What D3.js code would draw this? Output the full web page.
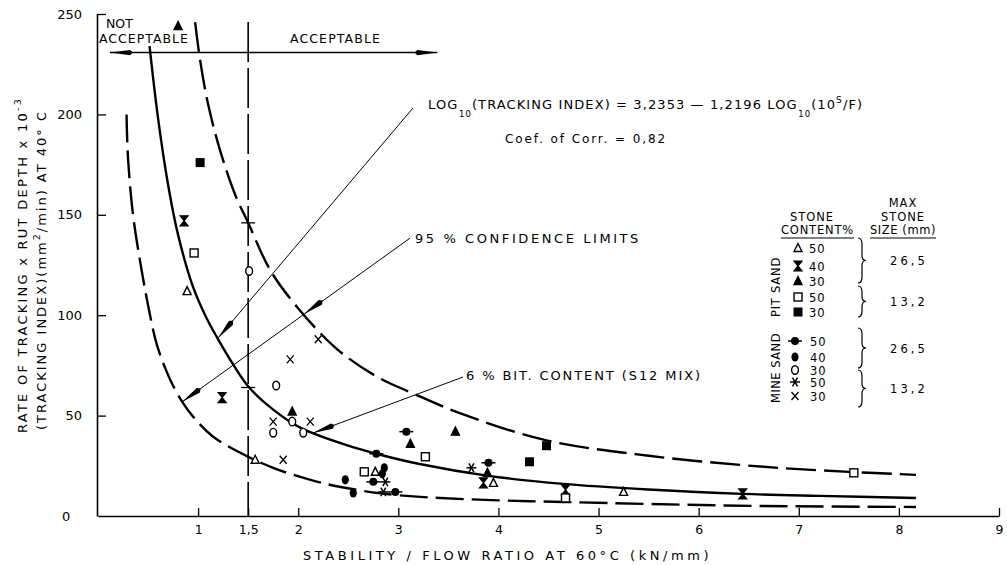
<!DOCTYPE html>
<html>
<head>
<meta charset="utf-8">
<script src="https://cdn.jsdelivr.net/npm/d3@7"></script>
<style>
  body { margin: 0; background: #fff; }
  svg { display: block; font-family: "DejaVu Sans", "Liberation Sans", sans-serif; }
</style>
</head>
<body>
<svg id="chart" width="1007" height="565"></svg>
<script>
// axis ticks
const xTicks = [1, 1.5, 2, 3, 4, 5, 6, 7, 8, 9];
const xTickLabels = ["1", "1,5", "2", "3", "4", "5", "6", "7", "8", "9"];
const yTicks = [50, 100, 150, 200, 250];

// curves (stability/flow, tracking index)
const regressionCurve = [[0.515,234],[0.6,198],[0.7,165],[0.8,140],[0.95,114],[1.09,98],[1.2,88],[1.35,75.5],[1.51,64],[1.75,53],[2.02,44],[2.5,35],[2.78,31],[3.2,26],[3.9,20],[4.65,16],[5.5,13.2],[6.44,11],[7.2,10],[8.17,9]];
const upperLimit = [[0.97,246],[1.02,227],[1.1,205],[1.22,182],[1.37,160],[1.5,146],[1.72,122.5],[1.99,104],[2.39,83],[2.8,69],[3.15,61],[3.6,51.5],[4.45,38],[5.5,30],[6.65,24.5],[7.5,22],[8.17,20.5]];
const lowerLimit = [[0.285,200],[0.3,178],[0.35,150],[0.42,127],[0.5,105],[0.59,85],[0.72,68],[0.84,57],[0.95,49.5],[1.15,39.5],[1.52,29],[1.75,24],[1.92,21],[2.25,16.3],[2.59,13],[2.82,11.3],[3.22,9.5],[4.0,7.8],[4.65,7],[5.5,6],[6.6,5],[8.17,4.5]];

// points per mix
const pitSand50 = [[0.89,112],[1.57,28],[2.77,22],[3.95,16.5],[5.25,12]];
const pitSand40 = [[0.86,147],[1.24,59],[3.85,16.5],[4.67,13],[6.44,11]];
const pitSand30 = [[0.80,244],[1.94,52],[3.12,36],[3.57,42],[3.89,21.5]];
const pitSand50s = [[0.96,131],[2.66,22],[3.27,29.5],[4.67,9],[7.55,21.5]];
const pitSand30s = [[1.02,176],[4.31,27],[4.48,35]];
const mineSand50 = [[2.78,31],[3.08,42],[3.9,26.5],[2.75,17],[2.97,12]];
const mineSand40 = [[2.47,18],[2.55,11.5],[2.86,24],[2.84,21]];
const mineSand30 = [[1.51,122],[1.78,65],[1.94,47],[1.75,41.5],[2.05,41.5]];
const mineSand50s = [[2.87,17],[2.85,12],[3.73,24]];
const mineSand30s = [[2.2,88],[1.92,78],[1.75,47],[2.12,47],[1.85,28]];

const series = [
  { sym: "triOpen", pts: pitSand50 },
  { sym: "hourglass", pts: pitSand40 },
  { sym: "triFill", pts: pitSand30 },
  { sym: "sqOpen", pts: pitSand50s },
  { sym: "sqFill", pts: pitSand30s },
  { sym: "dotLine", pts: mineSand50 },
  { sym: "dot", pts: mineSand40 },
  { sym: "circOpen", pts: mineSand30 },
  { sym: "star", pts: mineSand50s },
  { sym: "cross", pts: mineSand30s }
];

// legend
const legendSymbols = ["triOpen","hourglass","triFill","sqOpen","sqFill","dotLine","dot","circOpen","star","cross"];
const legendContents = ["50","40","30","50","30","50","40","30","50","30"];
const legendSizes = ["26,5","13,2","26,5","13,2"];

// annotation leaders in data units
const leaders = [
  { from: [3.147, 203.2], to: [1.199, 88.6], mid: null },
  { from: [3.117, 138.4], to: [0.839, 56.8], mid: [2.058, 100.6] },
  { from: [3.646, 69.2], to: [2.148, 41.3], mid: null }
];

const svg = d3.select("#chart");
const x = d3.scaleLinear().domain([0, 9]).range([98, 999]);
const y = d3.scaleLinear().domain([0, 250]).range([516, 14]);

function fitWidth(sel, w) {
  const node = sel.node();
  const n = node.getNumberOfChars();
  const cur = node.getComputedTextLength();
  sel.attr("letter-spacing", ((w - cur) / n).toFixed(2));
}

// axes
const xAxis = svg.append("g").attr("transform", `translate(0,${y(0)})`)
  .call(d3.axisBottom(x).tickValues(xTicks)
    .tickFormat((d, i) => xTickLabels[i])
    .tickSizeInner(-8).tickSizeOuter(0).tickPadding(9));
xAxis.select(".domain").attr("stroke-width", 1.6);
xAxis.selectAll(".tick line").attr("stroke-width", 1.3);
xAxis.selectAll("text").attr("font-size", 12.5).attr("font-family", "DejaVu Sans");

const yAxis = svg.append("g").attr("transform", `translate(${x(0) - 1},0)`)
  .call(d3.axisLeft(y).tickValues(yTicks)
    .tickSizeInner(-9).tickSizeOuter(0).tickPadding(15));
yAxis.select(".domain").attr("stroke-width", 1.6);
yAxis.selectAll(".tick line").attr("stroke-width", 1.3);
yAxis.selectAll("text").attr("font-size", 13).attr("font-family", "DejaVu Sans");

svg.append("text").attr("x", 62).attr("y", y(0) + 5)
  .attr("font-size", 13).text("0");

// axis titles
const yl1 = svg.append("text")
  .attr("transform", "translate(27,433) rotate(-90)")
  .attr("font-size", 13);
yl1.append("tspan").text("RATE OF TRACKING x RUT DEPTH x 10");
yl1.append("tspan").attr("dy", -6).attr("font-size", 9.5).text("-3");
fitWidth(yl1, 336);

const yl2 = svg.append("text")
  .attr("transform", "translate(46,430) rotate(-90)")
  .attr("font-size", 13);
yl2.append("tspan").text("(TRACKING INDEX)(mm");
yl2.append("tspan").attr("dy", -6).attr("font-size", 9.5).text("2");
yl2.append("tspan").attr("dy", 6).text("/min) AT 40° C");
fitWidth(yl2, 320);

const xl = svg.append("text").attr("x", 303).attr("y", 560)
  .attr("font-size", 13).text("STABILITY / FLOW RATIO AT 60°C (kN/mm)");
fitWidth(xl, 409);

// curves
const line = d3.line().x(d => x(d[0])).y(d => y(d[1])).curve(d3.curveCatmullRom.alpha(0.5));
svg.append("path").datum(upperLimit).attr("d", line)
  .attr("fill", "none").attr("stroke", "#000").attr("stroke-width", 2.4)
  .attr("stroke-dasharray", "30,8");
svg.append("path").datum(lowerLimit).attr("d", line)
  .attr("fill", "none").attr("stroke", "#000").attr("stroke-width", 2.4)
  .attr("stroke-dasharray", "28,8");
svg.append("path").datum(regressionCurve).attr("d", line)
  .attr("fill", "none").attr("stroke", "#000").attr("stroke-width", 2.4);

// stability limit at 1,5
svg.append("line")
  .attr("x1", x(1.5)).attr("x2", x(1.5)).attr("y1", y(246)).attr("y2", y(0))
  .attr("stroke", "#000").attr("stroke-width", 1.6).attr("stroke-dasharray", "40,6");
[146, 64].forEach(v => {
  svg.append("line").attr("x1", x(1.5) - 7).attr("x2", x(1.5) + 7)
    .attr("y1", y(v)).attr("y2", y(v)).attr("stroke", "#000").attr("stroke-width", 1.3);
});

function arrowHead(tip, from, len, w) {
  const dx = from[0] - tip[0], dy = from[1] - tip[1];
  const L = Math.hypot(dx, dy), ux = dx / L, uy = dy / L;
  const bx = tip[0] + ux * len, by = tip[1] + uy * len;
  svg.append("path")
    .attr("d", `M${tip[0]},${tip[1]}L${bx - uy * w},${by + ux * w}L${bx + ux * 3},${by + uy * 3}L${bx + uy * w},${by - ux * w}Z`)
    .attr("fill", "#000");
}

// acceptable / not acceptable arrow
const hy = y(230.8);
svg.append("line").attr("x1", x(0.12)).attr("x2", x(3.39)).attr("y1", hy).attr("y2", hy)
  .attr("stroke", "#000").attr("stroke-width", 1.4);
arrowHead([x(0.12), hy], [x(1), hy], 20, 2.6);
arrowHead([x(3.39), hy], [x(2), hy], 20, 2.6);

svg.append("text").attr("x", 106).attr("y", 28).attr("font-size", 12.5).text("NOT");
const na = svg.append("text").attr("x", 99).attr("y", 43).attr("font-size", 12.5).text("ACCEPTABLE");
fitWidth(na, 90);
const ac = svg.append("text").attr("x", 290).attr("y", 43).attr("font-size", 12.5).text("ACCEPTABLE");
fitWidth(ac, 91);

// leaders
leaders.forEach(l => {
  const f = [x(l.from[0]), y(l.from[1])], t = [x(l.to[0]), y(l.to[1])];
  svg.append("line").attr("x1", f[0]).attr("y1", f[1]).attr("x2", t[0]).attr("y2", t[1])
    .attr("stroke", "#000").attr("stroke-width", 1);
  arrowHead(t, f, 20, 2.8);
  if (l.mid) arrowHead([x(l.mid[0]), y(l.mid[1])], f, 20, 2.8);
});

// annotation texts
const eq = svg.append("text").attr("x", 428).attr("y", 109).attr("font-size", 13);
eq.append("tspan").text("LOG");
eq.append("tspan").attr("dx", 0.5).attr("dy", 8).attr("font-size", 8.5).text("10");
eq.append("tspan").attr("dy", -8).text("(TRACKING INDEX) = 3,2353 — 1,2196 LOG");
eq.append("tspan").attr("dx", 0.5).attr("dy", 8).attr("font-size", 8.5).text("10");
eq.append("tspan").attr("dy", -8).text("(10");
eq.append("tspan").attr("dy", -6).attr("font-size", 9).text("S");
eq.append("tspan").attr("dy", 6).text("/F)");
fitWidth(eq, 434);

const cc = svg.append("text").attr("x", 505).attr("y", 143).attr("font-size", 12).text("Coef.  of  Corr.  =  0,82");
fitWidth(cc, 162);

const cl = svg.append("text").attr("x", 415).attr("y", 243).attr("font-size", 13).text("95 %  CONFIDENCE  LIMITS");
fitWidth(cl, 226);

const bc = svg.append("text").attr("x", 466).attr("y", 380).attr("font-size", 13).text("6 %  BIT.  CONTENT  (S12 MIX)");
fitWidth(bc, 236);

// symbols
function drawSym(g, type, cx, cy) {
  const k = "#000";
  switch (type) {
    case "triOpen":
    case "triFill":
      g.append("path").attr("d", `M${cx},${cy - 4.5}L${cx + 4},${cy + 3.5}L${cx - 4},${cy + 3.5}Z`)
        .attr("fill", type === "triFill" ? k : "#fff").attr("stroke", k).attr("stroke-width", 1.4);
      break;
    case "hourglass":
      g.append("path").attr("d", `M${cx - 4},${cy - 5}L${cx + 4},${cy - 5}L${cx},${cy}ZM${cx - 4},${cy + 5}L${cx + 4},${cy + 5}L${cx},${cy}Z`)
        .attr("fill", k).attr("stroke", k).attr("stroke-width", 1.2);
      break;
    case "sqOpen":
      g.append("rect").attr("x", cx - 4).attr("y", cy - 4).attr("width", 8).attr("height", 8)
        .attr("fill", "#fff").attr("stroke", k).attr("stroke-width", 1.4);
      break;
    case "sqFill":
      g.append("rect").attr("x", cx - 4.5).attr("y", cy - 4.5).attr("width", 9).attr("height", 9).attr("fill", k);
      break;
    case "dotLine":
      g.append("line").attr("x1", cx - 7).attr("x2", cx + 7).attr("y1", cy).attr("y2", cy)
        .attr("stroke", k).attr("stroke-width", 1.5);
      g.append("circle").attr("cx", cx).attr("cy", cy).attr("r", 4).attr("fill", k);
      break;
    case "dot":
      g.append("ellipse").attr("cx", cx).attr("cy", cy).attr("rx", 3.6).attr("ry", 4.6).attr("fill", k);
      break;
    case "circOpen":
      g.append("ellipse").attr("cx", cx).attr("cy", cy).attr("rx", 3.4).attr("ry", 4.3)
        .attr("fill", "#fff").attr("stroke", k).attr("stroke-width", 1.4);
      break;
    case "star":
      [0, 60, 120].forEach(a => {
        const r = a * Math.PI / 180;
        g.append("line").attr("x1", cx - 5 * Math.cos(r)).attr("x2", cx + 5 * Math.cos(r))
          .attr("y1", cy - 5 * Math.sin(r)).attr("y2", cy + 5 * Math.sin(r))
          .attr("stroke", k).attr("stroke-width", 1.5);
      });
      break;
    case "cross":
      g.append("path").attr("d", `M${cx - 3.5},${cy - 4}L${cx + 3.5},${cy + 4}M${cx + 3.5},${cy - 4}L${cx - 3.5},${cy + 4}`)
        .attr("stroke", k).attr("stroke-width", 1.3);
      break;
  }
}

const pts = svg.append("g");
series.forEach(s => s.pts.forEach(p => drawSym(pts, s.sym, x(p[0]), y(p[1]))));

// legend
const lg = svg.append("g").attr("font-size", 11.5);
lg.append("text").attr("x", 812).attr("y", 221).attr("text-anchor", "middle").attr("letter-spacing", 1).text("STONE");
const ct = lg.append("text").attr("x", 781).attr("y", 234).text("CONTENT%");
fitWidth(ct, 73);
lg.append("line").attr("x1", 781).attr("x2", 854).attr("y1", 238).attr("y2", 238).attr("stroke", "#000").attr("stroke-width", 1.2);
lg.append("text").attr("x", 903).attr("y", 207).attr("text-anchor", "middle").attr("letter-spacing", 1).text("MAX");
lg.append("text").attr("x", 903).attr("y", 221).attr("text-anchor", "middle").attr("letter-spacing", 1).text("STONE");
const sz = lg.append("text").attr("x", 870).attr("y", 234).text("SIZE (mm)");
fitWidth(sz, 66);
lg.append("line").attr("x1", 870).attr("x2", 936).attr("y1", 238).attr("y2", 238).attr("stroke", "#000").attr("stroke-width", 1.2);

const rowY = [248, 266, 281, 297, 312, 341, 357, 370, 382, 396];
legendSymbols.forEach((s, i) => {
  const sx = i < 5 ? 798 : 795;
  drawSym(lg, s, sx, rowY[i]);
  lg.append("text").attr("x", i < 5 ? 809 : 810).attr("y", rowY[i] + 4.5).attr("letter-spacing", 1).text(legendContents[i]);
});

const ps = lg.append("text").attr("transform", "translate(780,317) rotate(-90)").text("PIT  SAND");
fitWidth(ps, 60);
const ms = lg.append("text").attr("transform", "translate(780,403) rotate(-90)").text("MINE  SAND");
fitWidth(ms, 70);

function brace(x0, y1, y2) {
  const w = 4, ym = (y1 + y2) / 2;
  lg.append("path")
    .attr("d", `M${x0},${y1}Q${x0 + w},${y1} ${x0 + w},${y1 + 6}L${x0 + w},${ym - 5}Q${x0 + w},${ym} ${x0 + 2 * w},${ym}Q${x0 + w},${ym} ${x0 + w},${ym + 5}L${x0 + w},${y2 - 6}Q${x0 + w},${y2} ${x0},${y2}`)
    .attr("fill", "none").attr("stroke", "#000").attr("stroke-width", 1.2);
}
const braceSpans = [[238, 283], [286, 317], [328, 368], [370, 407]];
braceSpans.forEach((b, i) => {
  brace(858, b[0], b[1]);
  const t = lg.append("text").attr("x", 890).attr("y", (b[0] + b[1]) / 2 + 4.5).text(legendSizes[i]);
  fitWidth(t, 38);
});
</script>
</body>
</html>
